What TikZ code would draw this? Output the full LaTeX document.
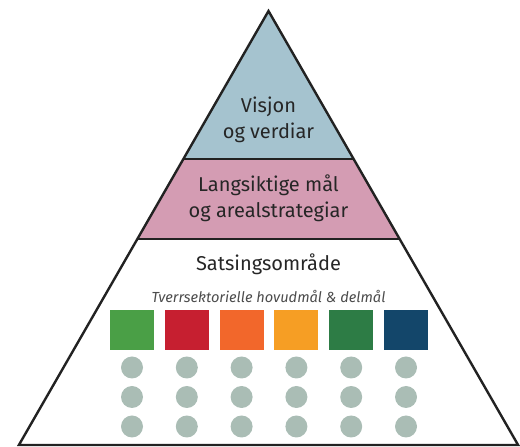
\documentclass[tikz,border=0pt]{standalone}
\usepackage{fontspec}
\setmainfont{Fira Sans}
\usepackage{xcolor}
\usepackage{tikz}
\definecolor{visjonblue}{HTML}{A5C3CF}
\definecolor{maalpink}{HTML}{D49CB3}
\definecolor{dotgrey}{HTML}{AABDB5}
\definecolor{edgegrey}{HTML}{222222}
\definecolor{sdgA}{HTML}{4A9F46}
\definecolor{sdgB}{HTML}{C61F30}
\definecolor{sdgC}{HTML}{F2672B}
\definecolor{sdgD}{HTML}{F69E24}
\definecolor{sdgE}{HTML}{2D7C45}
\definecolor{sdgF}{HTML}{13466A}
\tikzstyle{leveltext} = [align=center, text=black!85, font=\fontsize{20}{26}\selectfont]
\tikzstyle{subtext} = [text=black!70, font=\fontsize{14.6}{17}\selectfont\itshape]
\tikzstyle{goalbox} = [rectangle, minimum width=44pt, minimum height=40pt, inner sep=0pt]
\tikzstyle{goaldot} = [circle, minimum size=22pt, inner sep=0pt, fill=dotgrey]
\tikzstyle{edge} = [line width=2.4pt, draw=edgegrey, line join=miter]

\begin{document}
\begin{tikzpicture}[x=1pt,y=1pt]
	\useasboundingbox (0,0) rectangle (520,447);

	\coordinate (apex) at (268.5,436);
	\coordinate (l1) at (183.4,288);
	\coordinate (r1) at (353.6,288);
	\coordinate (l2) at (137.4,208);
	\coordinate (r2) at (399.6,208);
	\coordinate (bl) at (18.9,2);
	\coordinate (br) at (518.1,2);

	% layers
	\fill [visjonblue] (apex) -- (l1) -- (r1) -- cycle;
	\fill [maalpink] (l1) -- (l2) -- (r2) -- (r1) -- cycle;
	\draw [edge] (apex) -- (bl) -- (br) -- cycle;
	\draw [edge] (l1) -- (r1);
	\draw [edge] (l2) -- (r2);

	\node (visjon) [leveltext] at (268.5,327) {Visjon\\og verdiar};
	\node (langsiktig) [leveltext] at (268.5,249) {Langsiktige mål\\og arealstrategiar};
	\node (satsing) [leveltext] at (268.5,183) {Satsingsområde};
	\node (tverr) [subtext] at (268.5,151) {Tverrsektorielle hovudmål \& delmål};

	% goals and sub goals
	\foreach \c [count=\i] in {sdgA,sdgB,sdgC,sdgD,sdgE,sdgF} {
		\node (goal\i) [goalbox, fill=\c] at (132+54.8*\i-54.8,117) {};
		\foreach \j in {1,2,3}
			\node (dot\i-\j) [goaldot] at (132+54.8*\i-54.8,109-29.5*\j) {};
	}

\end{tikzpicture}
\end{document}
